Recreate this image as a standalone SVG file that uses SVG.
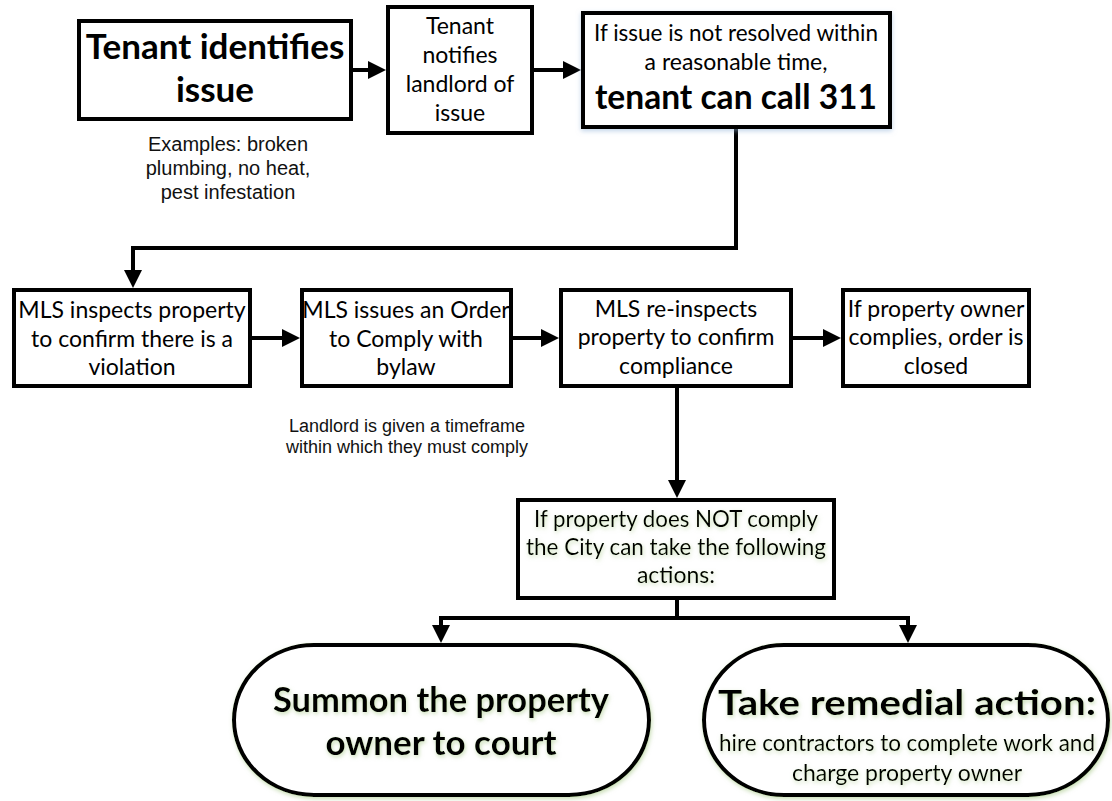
<svg xmlns="http://www.w3.org/2000/svg" width="1112" height="801" viewBox="0 0 1112 801">
<defs>
<marker id="ah" markerUnits="userSpaceOnUse" markerWidth="18" markerHeight="18" viewBox="0 0 18 18" refX="0" refY="9" orient="auto"><path d="M0,0 L18,9 L0,18 z" fill="#000"/></marker>
<filter id="bsh" x="-10%" y="-10%" width="120%" height="130%"><feDropShadow dx="0" dy="2" stdDeviation="2.5" flood-color="#8fb0d8" flood-opacity="0.55"/></filter>
<filter id="gsh" x="-10%" y="-10%" width="120%" height="130%"><feDropShadow dx="1" dy="2" stdDeviation="2" flood-color="#9cc27a" flood-opacity="0.55"/></filter>
<style>
.box{fill:#fff;stroke:#000;stroke-width:4}
.ov{fill:#fff;stroke:#000;stroke-width:4}
.c{fill:none;stroke:#000;stroke-width:4}
.t{font-family:Lato,"Open Sans",sans-serif;font-size:23px;text-anchor:middle;fill:#000}
.b{font-family:Lato,"Open Sans",sans-serif;font-weight:bold;font-size:35px;text-anchor:middle;fill:#000}
.a{font-family:"Liberation Sans",Arial,sans-serif;text-anchor:middle;fill:#111}
</style>
</defs>
<g id="connectors">
<path class="c" d="M353,70 H368" marker-end="url(#ah)"/>
<path class="c" d="M534,70 H563" marker-end="url(#ah)"/>
<path class="c" d="M736,129 V248 H133 V270" marker-end="url(#ah)"/>
<path class="c" d="M252,338 H282" marker-end="url(#ah)"/>
<path class="c" d="M513,338 H541" marker-end="url(#ah)"/>
<path class="c" d="M793,338 H823" marker-end="url(#ah)"/>
<path class="c" d="M677,388 V480" marker-end="url(#ah)"/>
<path class="c" d="M677,600 V618 H441 V625" marker-end="url(#ah)"/>
<path class="c" d="M677,618 H908 V625" marker-end="url(#ah)"/>
</g>
<g id="n1">
<rect class="box" x="79" y="21" width="272" height="98"/>
<text class="b" x="215" y="59">Tenant identifies</text>
<text class="b" x="215" y="102">issue</text>
</g>
<g id="n1note">
<text class="a" font-size="20" x="228" y="151">Examples: broken</text>
<text class="a" font-size="20" x="228" y="175">plumbing, no heat,</text>
<text class="a" font-size="20" x="228" y="199">pest infestation</text>
</g>
<g id="n2">
<rect class="box" x="388" y="7" width="144" height="126"/>
<text class="t" x="460" y="34">Tenant</text>
<text class="t" x="460" y="63">notifies</text>
<text class="t" x="460" y="92">landlord of</text>
<text class="t" x="460" y="121">issue</text>
</g>
<g id="n3">
<rect class="box" x="583" y="13" width="307" height="114" filter="url(#bsh)"/>
<text class="t" x="736" y="41" textLength="284" lengthAdjust="spacingAndGlyphs">If issue is not resolved within</text>
<text class="t" x="736" y="70">a reasonable time,</text>
<text class="b" x="736" y="109" font-size="33" textLength="282" lengthAdjust="spacingAndGlyphs">tenant can call 311</text>
</g>
<g id="n4">
<rect class="box" x="14" y="290" width="236" height="96"/>
<text class="t" x="132" y="318">MLS inspects property</text>
<text class="t" x="132" y="347">to confirm there is a</text>
<text class="t" x="132" y="375">violation</text>
</g>
<g id="n5">
<rect class="box" x="302" y="290" width="209" height="96"/>
<text class="t" x="406" y="318">MLS issues an Order</text>
<text class="t" x="406" y="347">to Comply with</text>
<text class="t" x="406" y="375">bylaw</text>
</g>
<g id="n5note">
<text class="a" font-size="18" x="407" y="432">Landlord is given a timeframe</text>
<text class="a" font-size="18" x="407" y="453">within which they must comply</text>
</g>
<g id="n6">
<rect class="box" x="561" y="290" width="230" height="96"/>
<text class="t" x="676" y="317">MLS re-inspects</text>
<text class="t" x="676" y="345">property to confirm</text>
<text class="t" x="676" y="374">compliance</text>
</g>
<g id="n7">
<rect class="box" x="843" y="290" width="186" height="96"/>
<text class="t" x="936" y="317">If property owner</text>
<text class="t" x="936" y="345">complies, order is</text>
<text class="t" x="936" y="374">closed</text>
</g>
<g id="n8">
<rect class="box" x="518" y="500" width="316" height="98"/>
<g filter="url(#gsh)">
<text class="t" x="676" y="527" textLength="284" lengthAdjust="spacingAndGlyphs">If property does NOT comply</text>
<text class="t" x="676" y="555" textLength="300" lengthAdjust="spacingAndGlyphs">the City can take the following</text>
<text class="t" x="676" y="583">actions:</text>
</g>
</g>
<g id="n9">
<rect class="ov" x="234" y="645" width="415" height="150" rx="80" ry="75" filter="url(#gsh)"/>
<g filter="url(#gsh)">
<text class="b" x="441" y="712" textLength="336" lengthAdjust="spacingAndGlyphs">Summon the property</text>
<text class="b" x="441" y="755">owner to court</text>
</g>
</g>
<g id="n10">
<rect class="ov" x="704" y="645" width="404" height="150" rx="80" ry="75" filter="url(#gsh)"/>
<g filter="url(#gsh)">
<text class="b" x="907" y="715" textLength="378" lengthAdjust="spacingAndGlyphs">Take remedial action:</text>
<text class="t" x="907" y="751" textLength="376" lengthAdjust="spacingAndGlyphs">hire contractors to complete work and</text>
<text class="t" x="907" y="781">charge property owner</text>
</g>
</g>
</svg>
